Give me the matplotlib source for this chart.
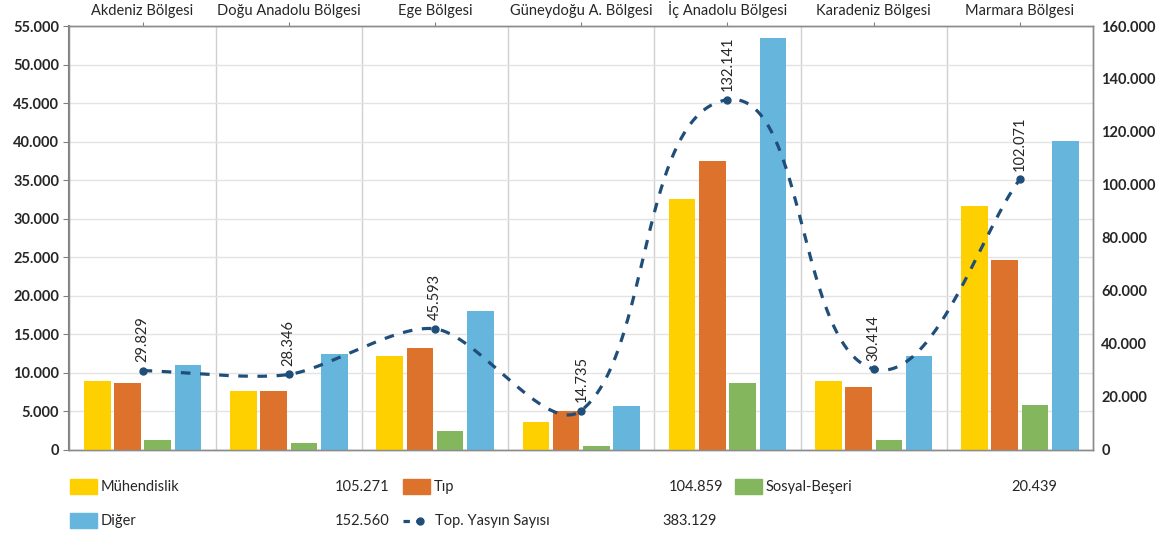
import numpy as np
import matplotlib.pyplot as plt
from matplotlib.patches import Rectangle
from matplotlib.lines import Line2D
from matplotlib.ticker import FuncFormatter, MultipleLocator

plt.rcParams['font.family'] = ['Lato', 'DejaVu Sans']

regions = ["Akdeniz Bölgesi", "Doğu Anadolu Bölgesi", "Ege Bölgesi", "Güneydoğu A. Bölgesi",
           "İç Anadolu Bölgesi", "Karadeniz Bölgesi", "Marmara Bölgesi"]
muhendislik = [8870, 7620, 12120, 3550, 32530, 8870, 31620]
tip = [8660, 7620, 13200, 4980, 37490, 8180, 24650]
sosyal = [1210, 820, 2340, 520, 8660, 1260, 5840]
diger = [11000, 12420, 17960, 5630, 53400, 12120, 40100]
toplam = [29829, 28346, 45593, 14735, 132141, 30414, 102071]

series_names = ["Mühendislik", "Tıp", "Sosyal-Beşeri", "Diğer", "Top. Yasyın Sayısı"]
series_totals = ["105.271", "104.859", "20.439", "152.560", "383.129"]
colors = ["#FFD000", "#DC722B", "#84B75D", "#65B5DD"]
line_color = "#1F4E79"


def fmt(v, pos=None):
    return f"{v:,.0f}".replace(",", ".")


def smooth_path(P, c=0.26, n=60):
    # bezier segments, handles along (next - prev), length c * segment length
    P = np.asarray(P, float)
    m = len(P)
    dirs = []
    for i in range(m):
        d = P[min(i + 1, m - 1)] - P[max(i - 1, 0)]
        dirs.append(d / np.linalg.norm(d))
    t = np.linspace(0, 1, n)[:, None]
    out = []
    for i in range(m - 1):
        L = np.linalg.norm(P[i + 1] - P[i]) * c
        p0, p3 = P[i], P[i + 1]
        p1, p2 = p0 + dirs[i] * L, p3 - dirs[i + 1] * L
        out.append((1 - t) ** 3 * p0 + 3 * (1 - t) ** 2 * t * p1 + 3 * (1 - t) * t ** 2 * p2 + t ** 3 * p3)
    return np.vstack(out)


fig = plt.figure(figsize=(11.68, 5.35), dpi=100)
ax = fig.add_axes([0.0595, 0.1598, 0.8763, 0.7916])
ax2 = ax.twinx()

x = np.arange(len(regions))
step, width = 0.207, 0.182
for k, vals in enumerate([muhendislik, tip, sosyal, diger]):
    ax.bar(x + (k - 1.5) * step, vals, width=width, color=colors[k], zorder=3)

ax.set_xlim(-0.5, len(regions) - 0.5)
ax.set_ylim(0, 55000)
ax.yaxis.set_major_locator(MultipleLocator(5000))
ax.yaxis.set_major_formatter(FuncFormatter(fmt))
ax.xaxis.tick_top()
ax.set_xticks(x)
ax.set_xticklabels(regions, fontsize=10.5, color="#262626")
ax.set_xticks(np.arange(0.5, len(regions) - 0.5, 1), minor=True)
ax.tick_params(axis='x', which='major', length=3, color="#808080", pad=3)
ax.tick_params(axis='x', which='minor', length=0)
ax.tick_params(axis='y', length=4, color="#808080", labelsize=10.5, labelcolor="#262626")
for lab in ax.get_yticklabels():
    lab.set_fontweight('bold')
ax.grid(axis='y', which='major', color="#E3E3E3", linewidth=1, zorder=0)
ax.grid(axis='x', which='minor', color="#D0D0D0", linewidth=1, zorder=0)
ax.set_axisbelow(True)

ax2.set_ylim(0, 160000)
ax2.yaxis.set_major_locator(MultipleLocator(20000))
ax2.yaxis.set_major_formatter(FuncFormatter(fmt))
ax2.tick_params(axis='y', length=0, labelsize=10.5, labelcolor="#262626", pad=6)
for lab in ax2.get_yticklabels():
    lab.set_fontweight('bold')

for a in (ax, ax2):
    for s in a.spines.values():
        s.set_color("#8C8C8C")
        s.set_linewidth(1)
ax.spines['left'].set_color("#7F7F7F")
ax.spines['left'].set_linewidth(1.5)

# smooth the line in screen proportions (146.5 px per category, 423 px for the right axis)
xs_px, ys_px = 146.5, 423 / 160000
pts = np.column_stack([x * xs_px, np.asarray(toplam) * ys_px])
curve = smooth_path(pts)
ax2.plot(curve[:, 0] / xs_px, curve[:, 1] / ys_px, color=line_color, linewidth=2.3,
         linestyle=(0, (3, 3)), zorder=4)
ax2.plot(x, toplam, 'o', color=line_color, markersize=5, zorder=5)
for xi, v in zip(x, toplam):
    ax2.annotate(fmt(v), (xi, v), xytext=(0, 6), textcoords='offset points', rotation=90,
                 ha='center', va='bottom', fontsize=10.5, color="#262626")

# legend laid out as a table under the chart
W, H = 1168, 535
def fx(px):
    return px / W
def fy(py):
    return 1 - py / H

rows = [
    [(70, "patch", colors[0], series_names[0], 389, series_totals[0]),
     (403, "patch", colors[1], series_names[1], 723, series_totals[1]),
     (735, "patch", colors[2], series_names[2], 1057, series_totals[2])],
    [(70, "patch", colors[3], series_names[3], 389, series_totals[3]),
     (403, "line", line_color, series_names[4], 717, series_totals[4])],
]
for r, row in enumerate(rows):
    yc = 487 + r * 34
    for x0, kind, col, name, xr, total in row:
        if kind == "patch":
            fig.patches.append(Rectangle((fx(x0), fy(yc + 7)), 27 / W, 15 / H,
                                         transform=fig.transFigure, color=col))
            tx = x0 + 31
        else:
            fig.lines.append(Line2D([fx(x0), fx(x0 + 20)], [fy(yc), fy(yc)], transform=fig.transFigure,
                                    color=col, linewidth=2.3, linestyle=(0, (2, 2))))
            fig.lines.append(Line2D([fx(x0 + 17)], [fy(yc)], transform=fig.transFigure,
                                    color=col, marker='o', markersize=5))
            tx = x0 + 32
        fig.text(fx(tx), fy(yc), name, ha='left', va='center', fontsize=10.5, color="#262626")
        fig.text(fx(xr), fy(yc), total, ha='right', va='center', fontsize=10.5, color="#262626")

fig.savefig("out.png", dpi=100)
